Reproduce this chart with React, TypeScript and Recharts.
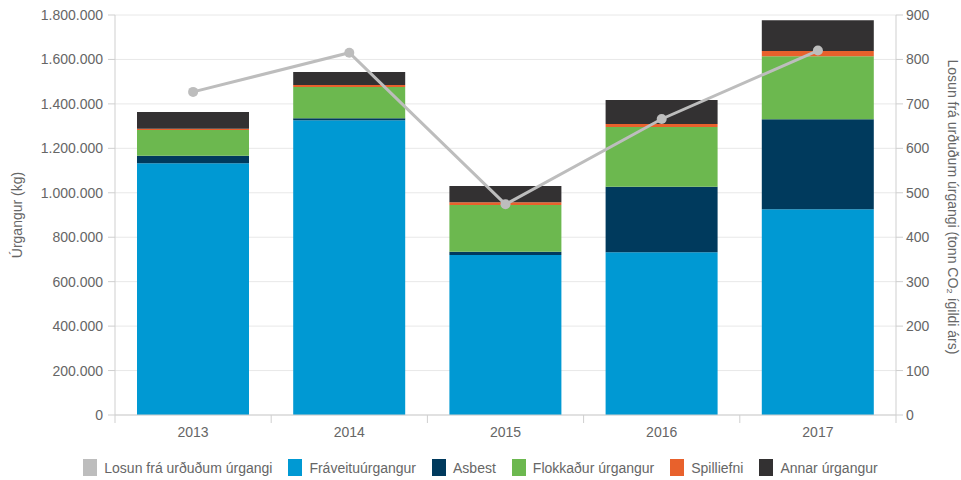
import React from 'react';
import {
  ComposedChart,
  Bar,
  Line,
  XAxis,
  YAxis,
  CartesianGrid,
  Legend,
} from 'recharts';

const years = ['2013', '2014', '2015', '2016', '2017'];
const fraveituurgangur = [1133000, 1326000, 720000, 732000, 926000];
const asbest = [34000, 9000, 15000, 295000, 405000];
const flokkadur = [116000, 141000, 210000, 269000, 283000];
const spilliefni = [5000, 9000, 12000, 13000, 24000];
const annar = [76000, 58000, 73000, 108000, 138000];
const losun = [727, 815, 474, 666, 820];

const leftTicks = [0, 200000, 400000, 600000, 800000, 1000000, 1200000, 1400000, 1600000, 1800000];
const rightTicks = [0, 100, 200, 300, 400, 500, 600, 700, 800, 900];

const legendItems = [
  { name: 'Losun frá urðuðum úrgangi', color: '#bdbdbd' },
  { name: 'Fráveituúrgangur', color: '#0099d3' },
  { name: 'Asbest', color: '#003a5d' },
  { name: 'Flokkaður úrgangur', color: '#6cb84f' },
  { name: 'Spilliefni', color: '#e8612c' },
  { name: 'Annar úrgangur', color: '#333132' },
];

const data = years.map((y, i) => ({
  year: y,
  fraveitu: fraveituurgangur[i],
  asbest: asbest[i],
  flokkadur: flokkadur[i],
  spilliefni: spilliefni[i],
  annar: annar[i],
  losun: losun[i],
}));

const FONT = '"Liberation Sans", Arial, sans-serif';
const TEXT = '#666';
const AXIS = '#cfcfcf';

const fmt = (v: number) => String(v).replace(/\B(?=(\d{3})+(?!\d))/g, '.');

const CHART_W = 961;
const CHART_H = 480;
const LEFT_W = 115;
const RIGHT_W = 65;
const HALF_BAND = (CHART_W - LEFT_W - RIGHT_W) / years.length / 2;

const XTick = (props: any) => {
  const { x, y, payload, index } = props;
  return (
    <g>
      <line x1={x - HALF_BAND} x2={x - HALF_BAND} y1={y - 8} y2={y} stroke={AXIS} />
      {index === years.length - 1 && (
        <line x1={x + HALF_BAND} x2={x + HALF_BAND} y1={y - 8} y2={y} stroke={AXIS} />
      )}
      <text x={x} y={y + 14} textAnchor="middle" fill={TEXT} fontSize={14} fontFamily={FONT}>
        {payload.value}
      </text>
    </g>
  );
};

const LeftLabel = (props: any) => {
  const vb = props.viewBox || { x: 0, y: 15, width: 115, height: 400 };
  const cx = vb.x + 17;
  const cy = vb.y + vb.height / 2;
  return (
    <text
      x={cx}
      y={cy}
      transform={`rotate(-90 ${cx} ${cy})`}
      textAnchor="middle"
      dominantBaseline="central"
      fill={TEXT}
      fontSize={14}
      fontFamily={FONT}
    >
      Úrgangur (kg)
    </text>
  );
};

const RightLabel = (props: any) => {
  const vb = props.viewBox || { x: 896, y: 15, width: 65, height: 400 };
  const cx = vb.x + 57;
  const cy = vb.y + vb.height / 2 - 8;
  return (
    <text
      x={cx}
      y={cy}
      transform={`rotate(90 ${cx} ${cy})`}
      textAnchor="middle"
      dominantBaseline="central"
      fill={TEXT}
      fontSize={14}
      fontFamily={FONT}
    >
      Losun frá urðuðum úrgangi (tonn CO₂ ígildi árs)
    </text>
  );
};

const LegendContent = () => (
  <div
    style={{
      display: 'flex',
      justifyContent: 'center',
      alignItems: 'center',
      height: 35,
      paddingTop: 10,
      boxSizing: 'border-box',
      fontFamily: FONT,
      fontSize: 14,
      color: TEXT,
    }}
  >
    {legendItems.map((it, i) => (
      <div
        key={it.name}
        style={{ display: 'flex', alignItems: 'center', marginRight: i === legendItems.length - 1 ? 0 : 16 }}
      >
        <span
          style={{
            display: 'inline-block',
            width: 14,
            height: 17,
            background: it.color,
            marginRight: 7,
          }}
        />
        <span>{it.name}</span>
      </div>
    ))}
  </div>
);

export default function App() {
  return (
    <div style={{ position: 'absolute', left: 0, top: 0, width: CHART_W, height: CHART_H, background: '#fff' }}>
      <ComposedChart
        width={CHART_W}
        height={CHART_H}
        data={data}
        margin={{ top: 15, right: 0, bottom: 0, left: 0 }}
        barCategoryGap={44}
      >
        <CartesianGrid yAxisId="left" vertical={false} stroke="#e8e8e8" />
        <XAxis
          dataKey="year"
          height={30}
          axisLine={{ stroke: AXIS }}
          tickLine={false}
          tick={<XTick />}
          interval={0}
        />
        <YAxis
          yAxisId="left"
          width={LEFT_W}
          domain={[0, 1800000]}
          ticks={leftTicks}
          tickFormatter={fmt}
          axisLine={{ stroke: AXIS }}
          tickLine={{ stroke: AXIS }}
          tickSize={7}
          tickMargin={5}
          tick={{ fill: TEXT, fontSize: 14, fontFamily: FONT }}
          label={<LeftLabel />}
        />
        <YAxis
          yAxisId="right"
          orientation="right"
          width={RIGHT_W}
          domain={[0, 900]}
          ticks={rightTicks}
          axisLine={{ stroke: AXIS }}
          tickLine={{ stroke: AXIS }}
          tickSize={7}
          tickMargin={3}
          tick={{ fill: TEXT, fontSize: 14, fontFamily: FONT }}
          label={<RightLabel />}
        />
        <Legend verticalAlign="bottom" height={35} content={<LegendContent />} />
        <Bar yAxisId="left" dataKey="fraveitu" stackId="a" fill="#0099d3" barSize={112} isAnimationActive={false} />
        <Bar yAxisId="left" dataKey="asbest" stackId="a" fill="#003a5d" barSize={112} isAnimationActive={false} />
        <Bar yAxisId="left" dataKey="flokkadur" stackId="a" fill="#6cb84f" barSize={112} isAnimationActive={false} />
        <Bar yAxisId="left" dataKey="spilliefni" stackId="a" fill="#e8612c" barSize={112} isAnimationActive={false} />
        <Bar yAxisId="left" dataKey="annar" stackId="a" fill="#333132" barSize={112} isAnimationActive={false} />
        <Line
          yAxisId="right"
          dataKey="losun"
          stroke="#bdbdbd"
          strokeWidth={3}
          dot={{ r: 5, fill: '#bdbdbd', stroke: 'none' }}
          activeDot={false}
          isAnimationActive={false}
        />
      </ComposedChart>
    </div>
  );
}
